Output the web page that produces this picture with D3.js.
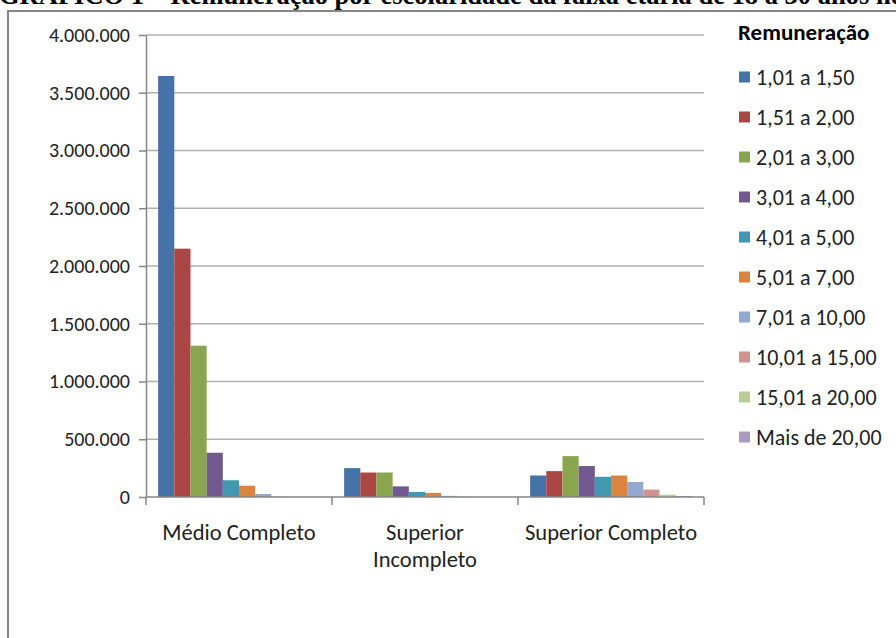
<!DOCTYPE html>
<html>
<head>
<meta charset="utf-8">
<script src="https://cdn.jsdelivr.net/npm/d3@7"></script>
<style>
  html, body { margin: 0; padding: 0; background: #fff; overflow: hidden; }
  svg { display: block; }
</style>
</head>
<body>
<svg id="chart" width="896" height="638"></svg>
<script>
// Escolaridade (grupos no eixo X)
const categories = ["Médio Completo", "Superior Incompleto", "Superior Completo"];
const categoryLines = [["Médio Completo"], ["Superior", "Incompleto"], ["Superior Completo"]];

// Faixas de remuneração (séries)
const series = ["1,01 a 1,50", "1,51 a 2,00", "2,01 a 3,00", "3,01 a 4,00", "4,01 a 5,00",
                "5,01 a 7,00", "7,01 a 10,00", "10,01 a 15,00", "15,01 a 20,00", "Mais de 20,00"];
const seriesColors = ["#4572A7", "#AA4643", "#89A54E", "#71588F", "#4198AF",
                      "#DB843D", "#93A9CF", "#D19392", "#B9CD96", "#A99BBD"];

// Quantidade de pessoas por faixa, um array por grupo de escolaridade
const medioCompleto      = [3645000, 2150000, 1310000, 383000, 145000, 98000, 26000, 4000, 1500, 800];
const superiorIncompleto = [250000, 212000, 212000, 92000, 44000, 36000, 10000, 3000, 1000, 500];
const superiorCompleto   = [186000, 224000, 354000, 268000, 175000, 186000, 130000, 64000, 20000, 9000];
const values = [medioCompleto, superiorIncompleto, superiorCompleto];

const yTicks = [0, 500000, 1000000, 1500000, 2000000, 2500000, 3000000, 3500000, 4000000];

const titleText = "GRAFICO 1 – Remuneração por escolaridade da faixa etária de 18 a 30 anos no";
const legendTitle = "Remuneração";

const svg = d3.select("#chart");
const uiFont = "Carlito, Calibri, Lato, sans-serif";

const plot = { left: 146, right: 704, top: 35, bottom: 497 };

const x = d3.scaleBand().domain(categories).range([plot.left, plot.right]).padding(0);
// Espaço entre grupos igual a 1,5 largura de barra
const bw = x.bandwidth();
const gap = bw * 1.5 / 11.5;
const xs = d3.scaleBand().domain(series).range([gap / 2, bw - gap / 2]).padding(0);
const y = d3.scaleLinear().domain([0, 4000000]).range([plot.bottom, plot.top]);

const locale = d3.formatLocale({ decimal: ",", thousands: ".", grouping: [3], currency: ["", ""] });
const fmt = locale.format(",.0f");

// Título (cortado na borda superior)
svg.append("text")
  .attr("x", -1).attr("y", 4)
  .attr("font-family", "'Liberation Serif', 'Times New Roman', serif")
  .attr("font-weight", "bold")
  .attr("font-size", 26.5)
  .attr("fill", "#000")
  .text(titleText);

// Moldura da área do gráfico
svg.append("rect")
  .attr("x", 8).attr("y", 11)
  .attr("width", 1000).attr("height", 700)
  .attr("fill", "none")
  .attr("stroke", "#868686")
  .attr("stroke-width", 2);

// Linhas de grade horizontais
svg.append("g")
  .selectAll("line")
  .data(yTicks.filter(d => d > 0))
  .join("line")
  .attr("x1", plot.left).attr("x2", plot.right)
  .attr("y1", d => y(d)).attr("y2", d => y(d))
  .attr("stroke", "#b0b0b0")
  .attr("stroke-width", 1.5);

// Barras
const groups = svg.append("g")
  .selectAll("g")
  .data(categories)
  .join("g")
  .attr("transform", d => `translate(${x(d)},0)`);

groups.selectAll("rect")
  .data((d, i) => series.map((s, j) => ({ s, j, v: values[i][j] })))
  .join("rect")
  .attr("x", d => xs(d.s))
  .attr("width", xs.bandwidth())
  .attr("y", d => y(d.v))
  .attr("height", d => y(0) - y(d.v))
  .attr("fill", d => seriesColors[d.j]);

// Eixo Y
const yAxis = svg.append("g")
  .attr("transform", `translate(${plot.left},0)`)
  .call(d3.axisLeft(y).tickValues(yTicks).tickSize(7).tickSizeOuter(0).tickPadding(9).tickFormat(fmt));
yAxis.select(".domain").attr("stroke", "#868686").attr("stroke-width", 1.5);
yAxis.selectAll(".tick line").attr("stroke", "#868686").attr("stroke-width", 1.5);
yAxis.selectAll(".tick text")
  .attr("font-family", uiFont).attr("font-size", 20).attr("fill", "#222");

// Eixo X (linha base e marcas entre grupos)
svg.append("line")
  .attr("x1", plot.left).attr("x2", plot.right)
  .attr("y1", y(0)).attr("y2", y(0))
  .attr("stroke", "#868686").attr("stroke-width", 1.5);
const boundaries = categories.map(c => x(c)).concat([x(categories[categories.length - 1]) + bw]);
svg.append("g")
  .selectAll("line")
  .data(boundaries)
  .join("line")
  .attr("x1", d => d).attr("x2", d => d)
  .attr("y1", y(0)).attr("y2", y(0) + 8)
  .attr("stroke", "#868686").attr("stroke-width", 1.5);

// Rótulos das categorias
const catLabels = svg.append("g")
  .selectAll("text")
  .data(categories)
  .join("text")
  .attr("x", d => x(d) + bw / 2)
  .attr("y", 540)
  .attr("text-anchor", "middle")
  .attr("font-family", uiFont).attr("font-size", 22.5).attr("fill", "#222");
catLabels.each(function (d, i) {
  d3.select(this).selectAll("tspan")
    .data(categoryLines[i])
    .join("tspan")
    .attr("x", x(d) + bw / 2)
    .attr("dy", (t, k) => k === 0 ? 0 : 27)
    .text(t => t);
});

// Legenda
const legend = svg.append("g");
legend.append("text")
  .attr("x", 738).attr("y", 32)
  .attr("dominant-baseline", "central")
  .attr("font-family", uiFont).attr("font-size", 23).attr("font-weight", "bold").attr("fill", "#000")
  .text(legendTitle);
const items = legend.selectAll("g.item")
  .data(series)
  .join("g")
  .attr("class", "item")
  .attr("transform", (d, i) => `translate(739,${77 + i * 40})`);
items.append("rect")
  .attr("x", 0).attr("y", -5.5).attr("width", 11).attr("height", 11)
  .attr("fill", (d, i) => seriesColors[i]);
items.append("text")
  .attr("x", 17).attr("y", 0)
  .attr("dominant-baseline", "central")
  .attr("font-family", uiFont).attr("font-size", 22).attr("fill", "#222")
  .text(d => d);
</script>
</body>
</html>
